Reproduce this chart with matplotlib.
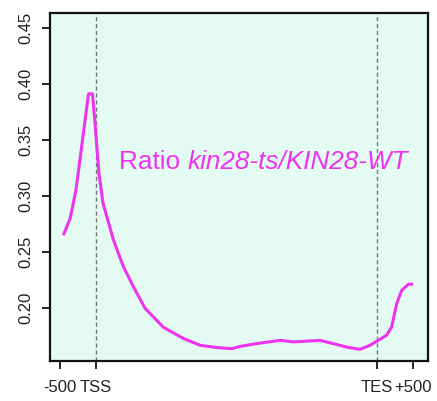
import matplotlib
matplotlib.use("Agg")
import matplotlib.pyplot as plt

plt.rcParams["font.family"] = ["Liberation Sans", "DejaVu Sans"]

# Meta-gene profile: position in bins (-500 .. TSS .. TES .. +500) and ratio values
positions = [0.9, 2.8, 4.4, 6.0, 7.9, 9.0, 9.7, 10.8, 11.9, 14.8, 17.6, 20.4,
             23.6, 28.7, 34.3, 38.9, 43.5, 47.7, 50.0, 54.6, 61.1, 64.8, 72.2,
             75.9, 79.6, 83.3, 86.1, 88.4, 90.7, 92.1, 93.5, 94.9, 96.8, 98.1]
ratio = [0.265, 0.280, 0.305, 0.344, 0.391, 0.391, 0.365, 0.320, 0.294, 0.261,
         0.237, 0.219, 0.200, 0.183, 0.173, 0.167, 0.165, 0.164, 0.166, 0.1685,
         0.1714, 0.170, 0.1714, 0.1685, 0.1654, 0.1634, 0.167, 0.1714, 0.176,
         0.1833, 0.204, 0.216, 0.2214, 0.2214]

tick_pos = [0, 10, 88, 98]
tick_labels = ["-500", "TSS", "TES", "+500"]
marker_pos = [10, 88]
y_ticks = [0.20, 0.25, 0.30, 0.35, 0.40, 0.45]

line_color = "#EE33EE"

fig = plt.figure(figsize=(4.37, 4.01), dpi=100)
ax = fig.add_axes([50 / 437, 40 / 401, 378 / 437, 348 / 401])
ax.set_facecolor("#E4FBF3")

for xv in marker_pos:
    ax.axvline(xv, color="#777777", lw=1.0, ls=(0, (3, 2)), zorder=1)

ax.plot(positions, ratio, color=line_color, lw=2.2, solid_capstyle="butt",
        solid_joinstyle="round", zorder=3)

ax.set_xlim(-2.8, 102.2)
ax.set_ylim(0.153, 0.463)

ax.set_xticks(tick_pos)
ax.set_xticklabels(tick_labels, fontsize=12)
ax.set_yticks(y_ticks)
ax.set_yticklabels([f"{v:.2f}" for v in y_ticks], fontsize=12,
                   rotation=90, va="center")
ax.tick_params(axis="both", direction="out", length=6, width=1.2,
               color="black", labelcolor="#222222")
ax.tick_params(axis="x", pad=8)
ax.tick_params(axis="y", pad=6)

for sp in ax.spines.values():
    sp.set_linewidth(1.6)
    sp.set_color("#111111")

t1 = ax.text(16.5, 0.324, "Ratio ", color=line_color, fontsize=18.8,
             ha="left", va="baseline", zorder=4)
ax.annotate("kin28-ts/KIN28-WT", xy=(1, 0), xycoords=t1, xytext=(0, 0),
            textcoords="offset points", color=line_color, fontsize=18.8,
            style="italic", ha="left", va="bottom", zorder=4)

fig.savefig("out.png", dpi=100)
